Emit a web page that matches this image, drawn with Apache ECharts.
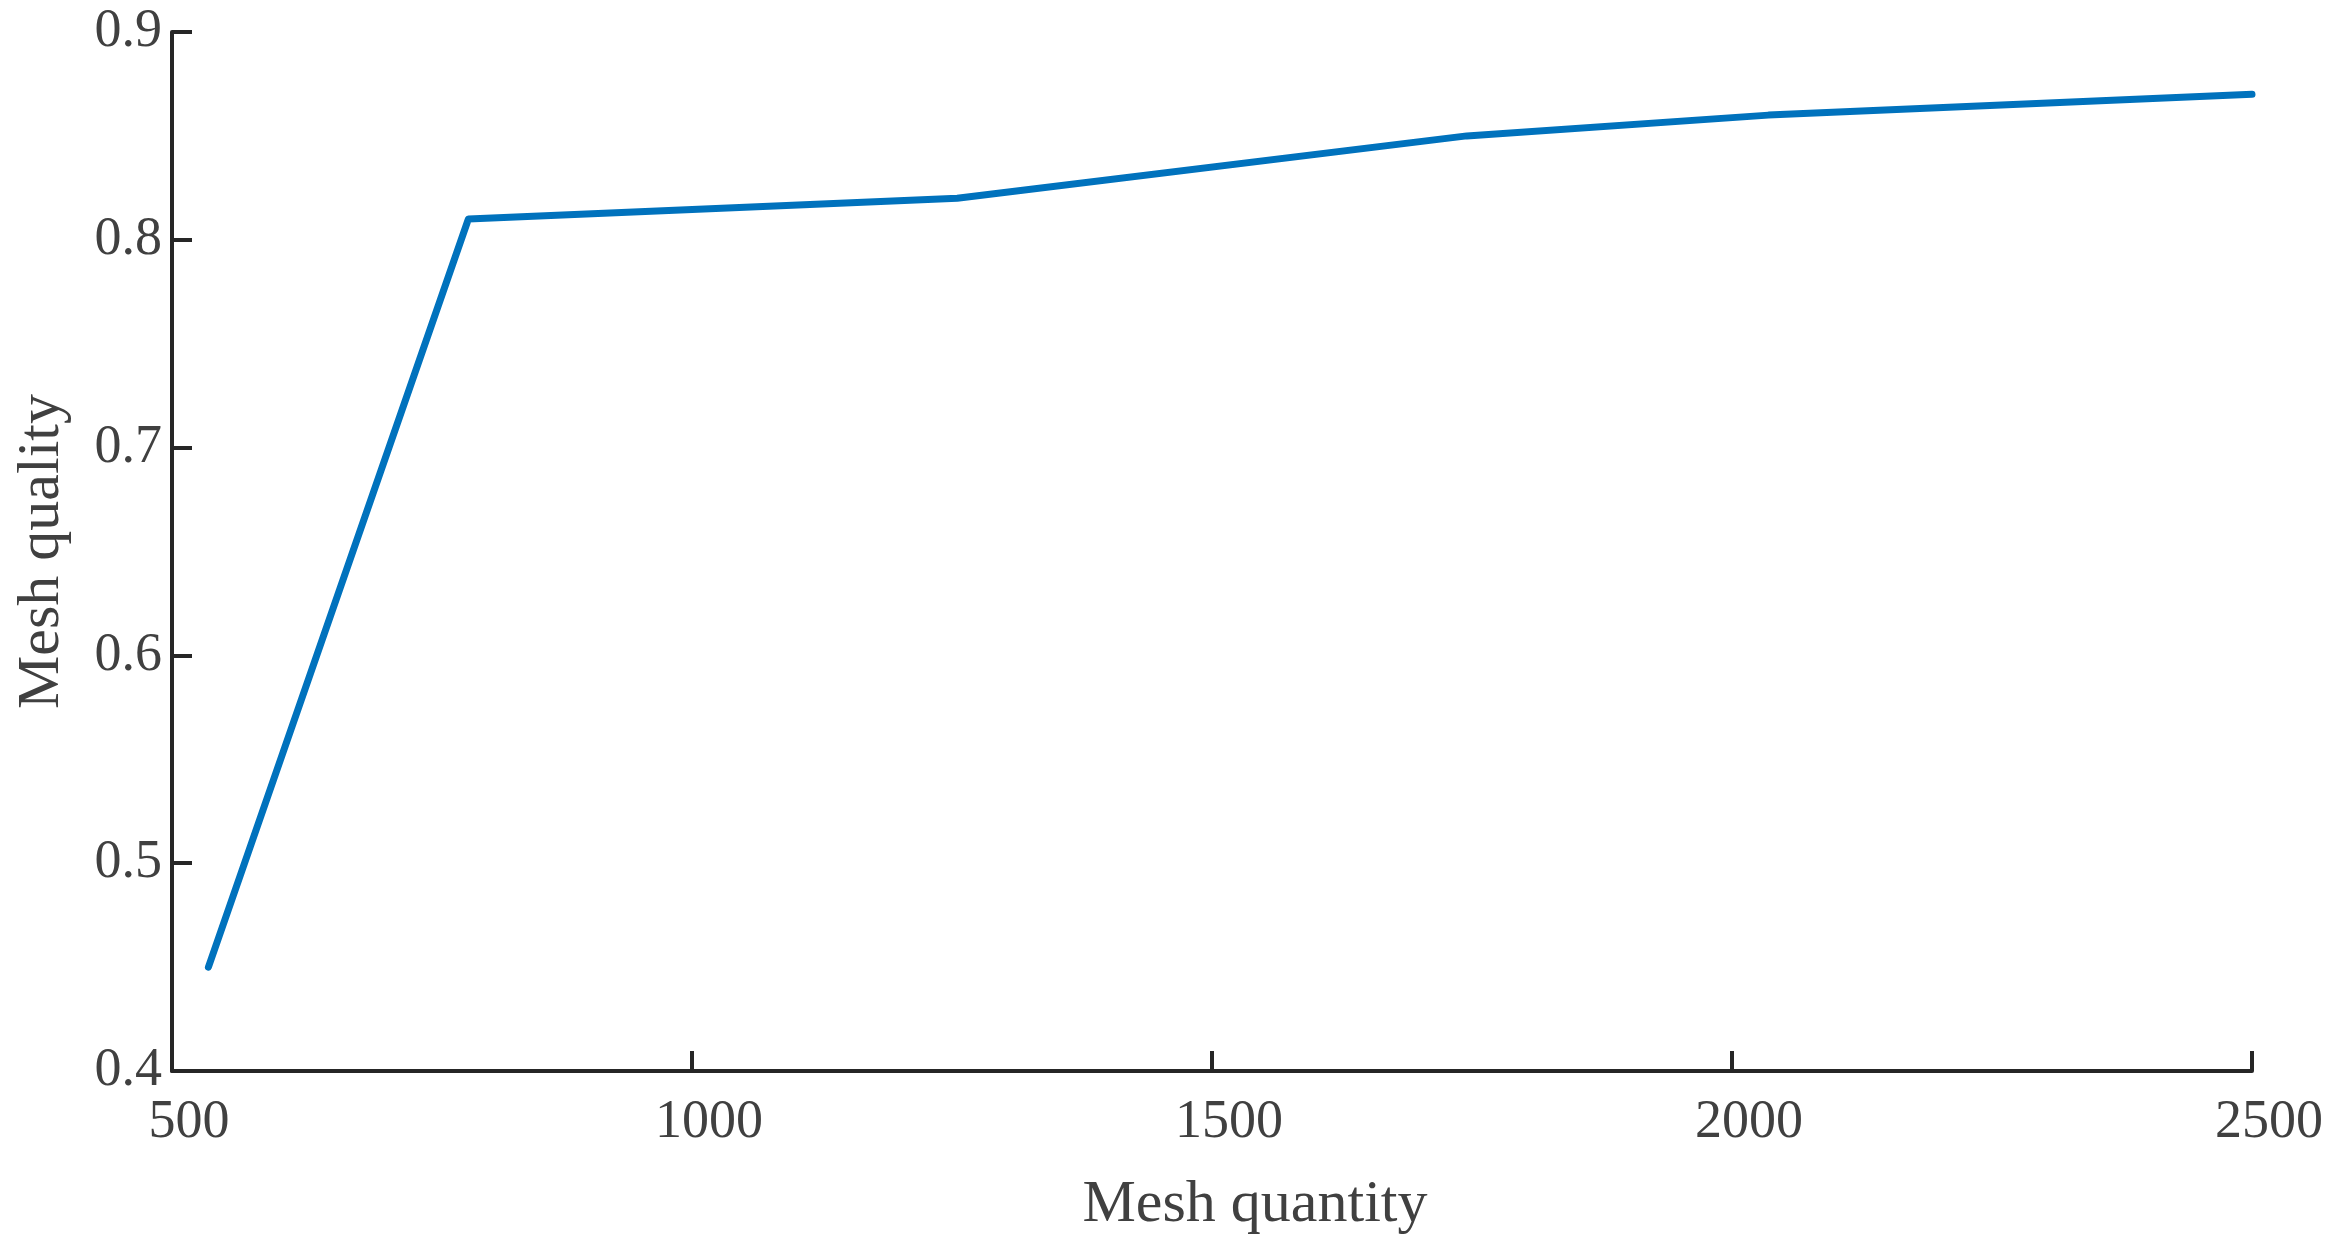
<!DOCTYPE html>
<html>
<head>
<meta charset="utf-8">
<script src="https://cdn.jsdelivr.net/npm/echarts@6/dist/echarts.min.js"></script>
<style>
html,body{margin:0;padding:0;background:#fff;}
#chart{width:2337px;height:1258px;}
</style>
</head>
<body>
<div id="chart"></div>
<script>
const meshQuantity = [535, 785, 1255, 1745, 2035, 2500];
const meshQuality = [0.45, 0.81, 0.82, 0.85, 0.86, 0.87];
const xTicks = [500, 1000, 1500, 2000, 2500];
const yTicks = [0.4, 0.5, 0.6, 0.7, 0.8, 0.9];

const FONT = '"Liberation Serif", "DejaVu Serif", serif';
const TXT = '#404040';
const AX = '#262626';

const chart = echarts.init(document.getElementById('chart'));
chart.setOption({
  animation: false,
  backgroundColor: '#ffffff',
  grid: {left: 172, top: 32, right: 85, bottom: 187, containLabel: false},
  xAxis: {
    type: 'value',
    min: xTicks[0], max: xTicks[xTicks.length - 1], interval: 500,
    name: 'Mesh quantity',
    nameLocation: 'middle',
    nameGap: 104,
    nameTextStyle: {fontFamily: FONT, fontSize: 60, color: TXT, padding: [0, 0, 0, 86]},
    axisLine: {show: true, lineStyle: {color: AX, width: 4}},
    axisTick: {show: true, inside: true, length: 20, lineStyle: {color: AX, width: 4}},
    splitLine: {show: false},
    axisLabel: {fontFamily: FONT, fontSize: 54, color: TXT, margin: 25, padding: [0, 0, 0, 34],
      showMinLabel: true, showMaxLabel: true, formatter: v => String(v)}
  },
  yAxis: {
    type: 'value',
    min: yTicks[0], max: yTicks[yTicks.length - 1], interval: 0.1,
    name: 'Mesh quality',
    nameLocation: 'middle',
    nameGap: 100,
    nameRotate: 90,
    nameTextStyle: {fontFamily: FONT, fontSize: 60, color: TXT},
    axisLine: {show: true, lineStyle: {color: AX, width: 4}},
    axisTick: {show: true, inside: true, length: 20, lineStyle: {color: AX, width: 4}},
    splitLine: {show: false},
    axisLabel: {fontFamily: FONT, fontSize: 54, color: TXT, margin: 10, formatter: v => v.toFixed(1)}
  },
  series: [{
    type: 'line',
    data: meshQuantity.map((x, i) => [x, meshQuality[i]]),
    showSymbol: false,
    symbol: 'none',
    lineStyle: {color: '#0072BD', width: 7, cap: 'round', join: 'round'},
    itemStyle: {color: '#0072BD'}
  }]
});
</script>
</body>
</html>
